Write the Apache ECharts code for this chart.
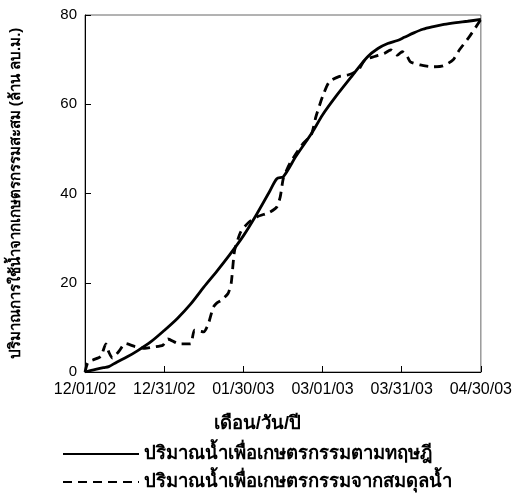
<!DOCTYPE html>
<html>
<head>
<meta charset="utf-8">
<script src="https://cdn.jsdelivr.net/npm/echarts@6/dist/echarts.min.js"></script>
<style>
html,body{margin:0;padding:0;background:#fff;}
#chart{width:515px;height:504px;}
</style>
</head>
<body>
<div id="chart"></div>
<script>
// x values are days after 12/01/02
var tickLabels = ['12/01/02', '12/31/02', '01/30/03', '03/01/03', '03/31/03', '04/30/03'];
var theoryName = 'ปริมาณน้ำเพื่อเกษตรกรรมตามทฤษฎี';
var balanceName = 'ปริมาณน้ำเพื่อเกษตรกรรมจากสมดุลน้ำ';
var yTitle = 'ปริมาณการใช้น้ำจากเกษตรกรรมสะสม (ล้าน ลบ.ม.)';
var xTitle = 'เดือน/วัน/ปี';

var theoryDays = [0, 4, 7, 9, 12, 16, 20, 25, 30, 35, 40, 45, 50, 55, 60, 65, 70, 72.7, 75.2, 80, 86, 90, 95, 101, 107, 111, 114.7, 118.4, 121, 124.6, 128, 132, 136, 140.6, 145, 150];
var theoryValues = [0, 0.6, 1.0, 1.2, 2.2, 3.4, 4.8, 6.8, 9.3, 12.0, 15.2, 19.0, 22.6, 26.4, 30.5, 35.3, 40.5, 43.3, 43.8, 48.4, 53.6, 57.6, 61.7, 66.2, 70.6, 72.5, 73.6, 74.3, 75.0, 76.0, 76.8, 77.4, 77.9, 78.3, 78.6, 79.0];

var balanceDays = [0, 1.1, 3, 6, 7.9, 9, 10.4, 12.8, 15.3, 19, 22.7, 25.8, 29.5, 31.4, 35.7, 40, 41.5, 45, 46.8, 48.6, 50, 51.7, 54.2, 55.4, 56.7, 59.1, 62, 65.3, 70, 72.7, 74, 75.2, 77.7, 82.6, 85.7, 87.5, 90, 92.5, 96.2, 99.9, 103.6, 106, 109.7, 113.4, 115.9, 118.4, 120.2, 122.1, 123.3, 127, 132, 135.7, 139.4, 141.9, 145.6, 150];
var balanceValues = [0, 2.2, 2.7, 3.5, 6.3, 4.5, 3.1, 4.6, 6.4, 5.7, 5.3, 5.6, 6.0, 7.4, 6.3, 6.3, 9.4, 9.0, 10.9, 14.5, 15.5, 16.1, 17.6, 19.9, 27.3, 31.5, 33.5, 34.8, 35.8, 37.0, 39.3, 43.5, 46.8, 51.2, 53.1, 57.2, 61.7, 65.0, 66.2, 66.6, 67.7, 69.9, 70.7, 71.4, 72.2, 71.0, 71.8, 70.7, 69.5, 68.8, 68.4, 68.6, 69.9, 72.2, 75.1, 79.0];

function zip(a, b) { return a.map(function (v, i) { return [v, b[i]]; }); }

var FONT = '"Liberation Sans", Arial, "DejaVu Sans", "Noto Sans", sans-serif';
var chart = echarts.init(document.getElementById('chart'), null, {renderer: 'canvas'});
chart.setOption({
  animation: false,
  backgroundColor: '#fff',
  textStyle: {fontFamily: FONT, color: '#000'},
  grid: {left: 77, right: 33, top: 15, bottom: 132, containLabel: false, show: true, borderColor: '#666', borderWidth: 1, backgroundColor: 'transparent'},
  xAxis: {
    type: 'value', min: 0, max: 150, interval: 30,
    axisLine: {show: true, onZero: false, lineStyle: {color: '#000', width: 1}},
    axisTick: {show: true, inside: true, length: 6, lineStyle: {color: '#000'}},
    splitLine: {show: false},
    axisLabel: {color: '#000', fontSize: 16, fontFamily: FONT, margin: 10,
      formatter: function (v) { return tickLabels[Math.round(v / 30)]; }}
  },
  yAxis: {
    type: 'value', min: 0, max: 80, interval: 20,
    name: yTitle, nameLocation: 'middle', nameRotate: 90, nameGap: 62,
    nameTextStyle: {color: '#000', fontSize: 15, fontWeight: 'bold', fontFamily: FONT},
    axisLine: {show: true, lineStyle: {color: '#000', width: 1}},
    axisTick: {show: true, inside: true, length: 6, lineStyle: {color: '#000'}},
    splitLine: {show: false},
    axisLabel: {color: '#000', fontSize: 15, fontFamily: FONT, margin: 8}
  },
  legend: {
    orient: 'vertical', left: 57, top: 439,
    itemWidth: 76, itemHeight: 14, itemGap: 8,
    itemStyle: {opacity: 0},
    textStyle: {color: '#000', fontSize: 18.5, fontWeight: 'bold', fontFamily: FONT, lineHeight: 20},
    data: [theoryName, balanceName]
  },
  graphic: [{
    type: 'text', left: 'center', top: 414,
    style: {text: xTitle, fontSize: 18.5, fontWeight: 'bold', fontFamily: FONT, fill: '#000'}
  }],
  series: [{
    name: theoryName, type: 'line', data: zip(theoryDays, theoryValues),
    showSymbol: false, symbol: 'none', smooth: 0.3,
    lineStyle: {color: '#000', width: 2.8, type: 'solid'}, itemStyle: {color: '#000'}
  }, {
    name: balanceName, type: 'line', data: zip(balanceDays, balanceValues),
    showSymbol: false, symbol: 'none', smooth: 0.2,
    lineStyle: {color: '#000', width: 2.8, type: [9, 6]}, itemStyle: {color: '#000'}
  }]
});
</script>
</body>
</html>
